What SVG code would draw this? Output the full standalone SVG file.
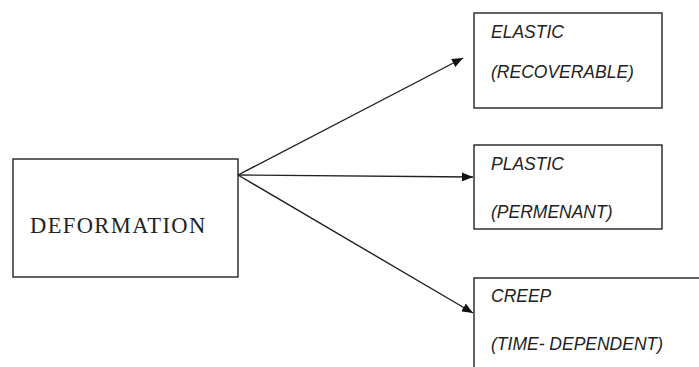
<svg xmlns="http://www.w3.org/2000/svg" width="699" height="367" viewBox="0 0 699 367">
<style>
.box{fill:#fff;stroke:#222;stroke-width:1.4}
.lbl{font-family:"Liberation Sans",Arial,sans-serif;font-style:italic;font-size:17.5px;fill:#222}
.main{font-family:"Liberation Serif","Times New Roman",serif;font-size:22.5px;letter-spacing:1.4px;fill:#222}
.conn{stroke:#222;stroke-width:1.4;fill:none;marker-end:url(#ah)}
</style>
<defs>
<marker id="ah" viewBox="0 0 11 9" refX="11" refY="4.5" markerWidth="11" markerHeight="9" markerUnits="userSpaceOnUse" orient="auto">
<path d="M0,0 L11,4.5 L0,9 Z" fill="#111"/>
</marker>
</defs>
<rect width="699" height="367" fill="#fff"/>
<g id="deformation">
<rect class="box" x="13" y="159" width="225" height="118"/>
<text class="main" x="30" y="233">DEFORMATION</text>
</g>
<g id="elastic">
<rect class="box" x="474" y="13" width="188" height="95"/>
<text class="lbl" x="491" y="38">ELASTIC</text>
<text class="lbl" x="491" y="78">(RECOVERABLE)</text>
</g>
<g id="plastic">
<rect class="box" x="474" y="145" width="188" height="84"/>
<text class="lbl" x="491" y="170">PLASTIC</text>
<text class="lbl" x="491" y="218">(PERMENANT)</text>
</g>
<g id="creep">
<rect class="box" x="474" y="278" width="240" height="110"/>
<text class="lbl" x="491" y="302">CREEP</text>
<text class="lbl" x="491" y="350">(TIME- DEPENDENT)</text>
</g>
<g id="connectors">
<line class="conn" x1="238" y1="175" x2="463" y2="58"/>
<line class="conn" x1="238" y1="175" x2="473" y2="177"/>
<line class="conn" x1="238" y1="175" x2="473" y2="313"/>
</g>
</svg>
